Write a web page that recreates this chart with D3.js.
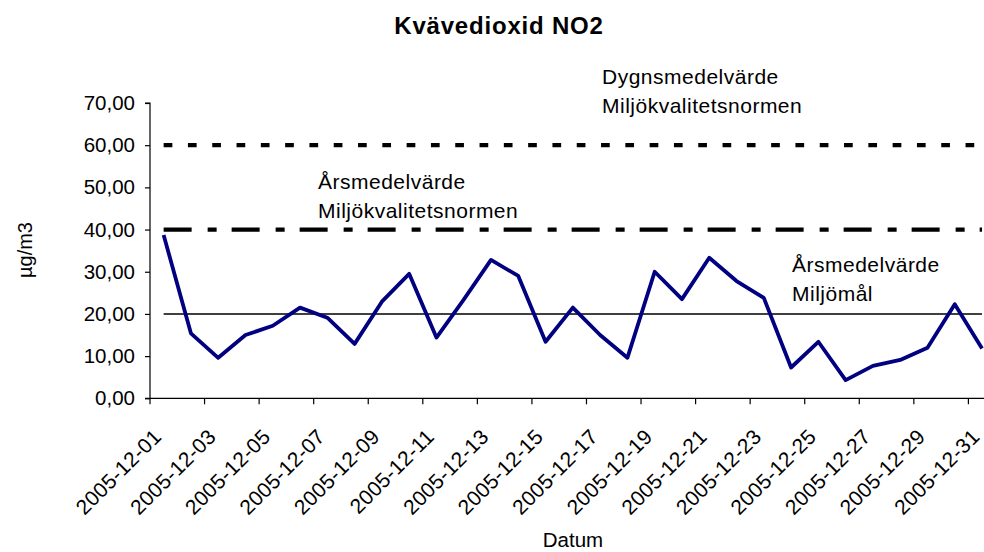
<!DOCTYPE html>
<html>
<head>
<meta charset="utf-8">
<script src="https://cdn.jsdelivr.net/npm/d3@7"></script>
<style>
  body { margin: 0; background: #fff; }
  svg { font-family: "Liberation Sans", Arial, sans-serif; }
</style>
</head>
<body>
<svg width="984" height="552"></svg>
<script>
// data: daily mean NO2, December 2005
const days = d3.range(1, 32).map(d => '2005-12-' + String(d).padStart(2, '0'));
const no2 = [38.7, 15.4, 9.6, 15.0, 17.2, 21.5, 19.1, 12.9, 22.9, 29.5,
             14.4, 23.4, 32.8, 29.0, 13.4, 21.5, 15.0, 9.6, 30.0, 23.5,
             33.3, 27.8, 23.8, 7.3, 13.4, 4.3, 7.7, 9.1, 12.0, 22.3, 11.8];
const yTicks = [0, 10, 20, 30, 40, 50, 60, 70];

// limit values (Dygnsmedelvärde MKN, Årsmedelvärde MKN, Årsmedelvärde miljömål)
const limitNames = ['dygn', 'arsMkn', 'arsMiljomal'];
const limitValues = [60, 40, 20];
const limitDash = ['8.7,15.6', '28,16,9,15', null];
const limitWidth = [4.2, 4.2, 1.5];
const limitLabels = [
  ['Dygnsmedelvärde', 'Miljökvalitetsnormen'],
  ['Årsmedelvärde', 'Miljökvalitetsnormen'],
  ['Årsmedelvärde', 'Miljömål']
];
const labelPos = [[602, 84], [318, 189], [792, 272]];

const svg = d3.select('svg');

const x = d3.scaleBand().domain(days).range([150, 150 + 31 * 27.28]);
const y = d3.scaleLinear().domain([0, 70]).range([398.3, 103]);
const cx = d => x(d) + x.bandwidth() / 2;

// title
svg.append('text')
  .attr('x', 499).attr('y', 34)
  .attr('text-anchor', 'middle')
  .attr('font-size', 24).attr('font-weight', 'bold')
  .attr('letter-spacing', 0.8)
  .text('Kvävedioxid NO2');

// y axis
const yAxis = svg.append('g')
  .attr('transform', 'translate(150,0)')
  .call(d3.axisLeft(y).tickValues(yTicks).tickSize(5).tickPadding(10)
    .tickFormat(d => d.toFixed(2).replace('.', ',')));
yAxis.selectAll('text').attr('font-size', 20.5).attr('fill', '#000')
  .attr('font-family', '"Liberation Sans", Arial, sans-serif');
yAxis.selectAll('line, path').attr('stroke', '#000').attr('stroke-width', 1.2);
yAxis.select('.domain').attr('d', 'M-5,' + y(70) + 'H0V' + y(0) + 'H-5');

svg.append('text')
  .attr('transform', 'translate(32,250) rotate(-90)')
  .attr('text-anchor', 'middle')
  .attr('font-size', 20)
  .text('µg/m3');

// x axis
svg.append('line')
  .attr('x1', 150).attr('x2', x.range()[1])
  .attr('y1', y(0)).attr('y2', y(0))
  .attr('stroke', '#000').attr('stroke-width', 1.2);

const labelled = days.filter((d, i) => i % 2 === 0);
svg.append('g').selectAll('line').data(labelled)
  .enter().append('line')
  .attr('x1', d => x(d)).attr('x2', d => x(d))
  .attr('y1', y(0)).attr('y2', y(0) + 6)
  .attr('stroke', '#000').attr('stroke-width', 1.2);

svg.append('g').selectAll('text').data(labelled)
  .enter().append('text')
  .attr('transform', d => `translate(${cx(d) - 1},438) rotate(-45)`)
  .attr('text-anchor', 'end')
  .attr('font-size', 21)
  .attr('letter-spacing', 0.3)
  .text(d => d);

svg.append('text')
  .attr('x', 573).attr('y', 547)
  .attr('text-anchor', 'middle')
  .attr('font-size', 20.5)
  .text('Datum');

// limit lines as constant series
const line = d3.line().x(d => cx(d.day)).y(d => y(d.value));

limitValues.forEach((v, k) => {
  svg.append('path')
    .datum(days.map(day => ({day, value: v})))
    .attr('class', 'limit ' + limitNames[k])
    .attr('d', line)
    .attr('fill', 'none')
    .attr('stroke', '#000')
    .attr('stroke-width', limitWidth[k])
    .attr('stroke-dasharray', limitDash[k]);

  const t = svg.append('text')
    .attr('x', labelPos[k][0]).attr('y', labelPos[k][1])
    .attr('font-size', 21)
    .attr('letter-spacing', 0.5);
  t.selectAll('tspan').data(limitLabels[k])
    .enter().append('tspan')
    .attr('x', labelPos[k][0])
    .attr('dy', (d, i) => i === 0 ? 0 : 29)
    .text(d => d);
});

// NO2 series
svg.append('path')
  .datum(days.map((day, i) => ({day, value: no2[i]})))
  .attr('d', line)
  .attr('fill', 'none')
  .attr('stroke', '#000080')
  .attr('stroke-width', 3.8)
  .attr('stroke-linejoin', 'round');
</script>
</body>
</html>
